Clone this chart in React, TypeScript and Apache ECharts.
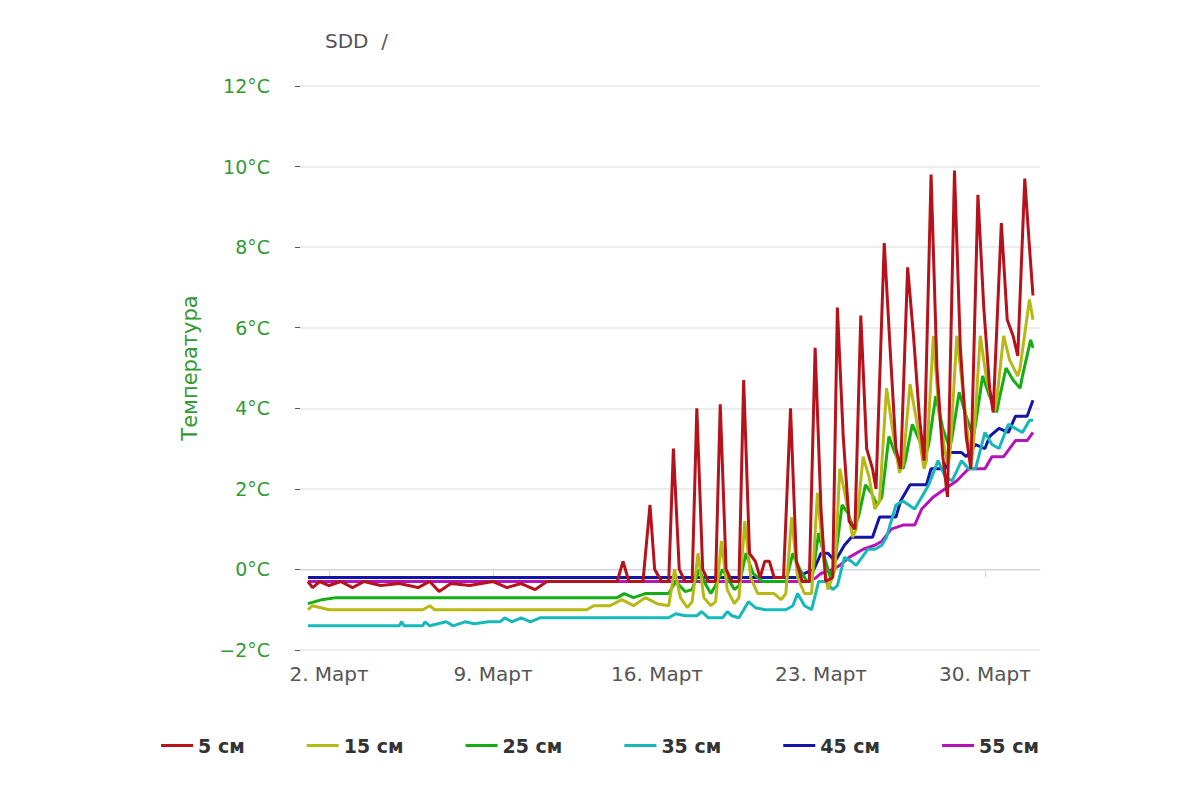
import React, { useEffect, useRef } from "react";
import * as echarts from "echarts";

// x = day of March (fractional), y = °C
const dayTicks = [2, 9, 16, 23, 30];
const yTicks = [-2, 0, 2, 4, 6, 8, 10, 12];
const seriesNames = ["5 см", "15 см", "25 см", "35 см", "45 см", "55 см"];
const colors = ["#b5121b", "#b8b814", "#14ad14", "#17b8b8", "#1414a8", "#b514b8"];

const s5 = [[1.1,-0.3],[1.3,-0.45],[1.6,-0.3],[2.0,-0.4],[2.5,-0.3],[3.0,-0.45],[3.5,-0.3],[4.2,-0.4],[5.0,-0.35],[5.8,-0.45],[6.3,-0.3],[6.7,-0.55],[7.2,-0.35],[8.0,-0.4],[9.0,-0.3],[9.6,-0.45],[10.2,-0.35],[10.8,-0.5],[11.3,-0.3],[12.5,-0.3],[13.5,-0.3],[14.3,-0.3],[14.55,0.2],[14.8,-0.3],[15.4,-0.3],[15.7,1.6],[15.9,0.0],[16.2,-0.3],[16.5,-0.3],[16.7,3.0],[16.95,0.0],[17.2,-0.3],[17.5,-0.3],[17.7,4.0],[17.95,0.0],[18.2,-0.3],[18.5,-0.3],[18.7,4.1],[18.95,0.0],[19.2,-0.3],[19.5,-0.3],[19.7,4.7],[19.95,0.4],[20.2,0.2],[20.4,-0.2],[20.6,0.2],[20.8,0.2],[21.0,-0.2],[21.4,-0.2],[21.7,4.0],[21.95,0.2],[22.2,-0.3],[22.5,-0.3],[22.75,5.5],[23.0,1.5],[23.2,-0.3],[23.5,-0.2],[23.7,6.5],[23.95,3.3],[24.2,1.2],[24.45,1.0],[24.7,6.3],[24.95,3.0],[25.2,2.5],[25.35,2.0],[25.7,8.1],[25.95,5.5],[26.2,3.0],[26.4,2.5],[26.7,7.5],[26.95,5.8],[27.2,3.8],[27.4,2.7],[27.7,9.8],[27.95,5.0],[28.2,2.8],[28.4,1.8],[28.7,9.9],[28.95,5.5],[29.2,3.3],[29.4,2.5],[29.7,9.3],[29.95,6.5],[30.2,4.5],[30.35,3.9],[30.7,8.6],[30.95,6.2],[31.2,5.8],[31.4,5.3],[31.7,9.7],[31.9,8.0],[32.05,6.8]];
const s15 = [[1.1,-1.0],[1.3,-0.9],[2.0,-1.0],[6.0,-1.0],[6.3,-0.9],[6.5,-1.0],[11.5,-1.0],[13.0,-1.0],[13.3,-0.9],[14.0,-0.9],[14.5,-0.75],[15.0,-0.9],[15.5,-0.7],[16.0,-0.85],[16.5,-0.9],[16.75,0.0],[17.0,-0.7],[17.3,-0.95],[17.5,-0.8],[17.75,0.4],[18.0,-0.7],[18.3,-0.9],[18.5,-0.8],[18.75,0.7],[19.0,-0.5],[19.3,-0.85],[19.5,-0.7],[19.75,1.2],[20.0,-0.2],[20.3,-0.6],[21.0,-0.6],[21.3,-0.75],[21.5,-0.6],[21.75,1.3],[22.0,-0.2],[22.3,-0.6],[22.6,-0.6],[22.85,1.9],[23.1,0.3],[23.3,-0.5],[23.6,0.0],[23.8,2.5],[24.05,1.8],[24.35,0.8],[24.5,1.0],[24.8,2.8],[25.05,2.3],[25.3,1.5],[25.5,1.7],[25.8,4.5],[26.05,3.5],[26.35,2.4],[26.5,2.6],[26.8,4.6],[27.05,3.8],[27.4,2.5],[27.5,2.7],[27.8,5.8],[28.05,3.8],[28.4,2.6],[28.5,2.8],[28.8,5.8],[29.05,4.5],[29.4,2.6],[29.5,3.0],[29.8,5.8],[30.05,4.8],[30.4,3.9],[30.5,4.2],[30.8,5.8],[31.05,5.2],[31.4,4.8],[31.5,5.0],[31.9,6.7],[32.05,6.2]];
const s25 = [[1.1,-0.85],[1.4,-0.8],[1.7,-0.75],[2.3,-0.7],[14.3,-0.7],[14.6,-0.6],[15.0,-0.7],[15.5,-0.6],[16.0,-0.6],[16.5,-0.6],[16.8,-0.3],[17.2,-0.55],[17.5,-0.5],[17.8,0.0],[18.1,-0.4],[18.3,-0.6],[18.5,-0.4],[18.8,0.0],[19.1,-0.3],[19.3,-0.5],[19.5,-0.4],[19.8,0.4],[20.1,-0.1],[20.5,-0.3],[21.5,-0.3],[21.8,0.4],[22.1,0.0],[22.4,-0.3],[22.6,-0.3],[22.9,0.9],[23.15,0.3],[23.4,-0.2],[23.6,0.2],[23.9,1.6],[24.15,1.4],[24.4,1.0],[24.6,1.3],[24.9,2.1],[25.15,1.9],[25.4,1.6],[25.6,1.8],[25.9,3.3],[26.15,2.9],[26.5,2.5],[26.6,2.7],[26.9,3.6],[27.2,3.2],[27.5,2.9],[27.6,3.1],[27.9,4.3],[28.2,3.5],[28.5,3.0],[28.6,3.3],[28.9,4.4],[29.2,3.8],[29.5,3.3],[29.6,3.6],[29.9,4.8],[30.2,4.3],[30.5,3.9],[30.6,4.2],[30.9,5.0],[31.2,4.7],[31.5,4.5],[31.6,4.8],[31.95,5.7],[32.05,5.5]];
const s35 = [[1.1,-1.4],[5.0,-1.4],[5.1,-1.3],[5.2,-1.4],[6.0,-1.4],[6.1,-1.3],[6.3,-1.4],[7.0,-1.3],[7.3,-1.4],[7.8,-1.3],[8.2,-1.35],[8.8,-1.3],[9.3,-1.3],[9.5,-1.2],[9.8,-1.3],[10.2,-1.2],[10.6,-1.3],[11.0,-1.2],[13.0,-1.2],[16.5,-1.2],[16.8,-1.1],[17.2,-1.15],[17.7,-1.15],[17.9,-1.05],[18.2,-1.2],[18.8,-1.2],[19.0,-1.05],[19.2,-1.15],[19.5,-1.2],[19.9,-0.8],[20.2,-0.95],[20.6,-1.0],[21.5,-1.0],[21.8,-0.9],[22.0,-0.6],[22.3,-0.9],[22.6,-1.0],[22.9,-0.3],[23.2,-0.3],[23.5,-0.5],[23.7,-0.4],[24.0,0.3],[24.3,0.2],[24.5,0.1],[25.0,0.5],[25.3,0.5],[25.6,0.6],[25.8,0.8],[26.2,1.6],[26.5,1.7],[27.0,1.5],[27.4,1.9],[27.6,2.1],[28.0,2.7],[28.3,2.3],[28.6,2.2],[29.0,2.7],[29.3,2.5],[29.6,2.5],[30.0,3.4],[30.3,3.1],[30.6,3.0],[31.0,3.6],[31.3,3.5],[31.6,3.4],[31.9,3.7],[32.05,3.7]];
const s45 = [[1.1,-0.2],[22.0,-0.2],[22.3,-0.1],[22.7,0.0],[23.0,0.4],[23.3,0.4],[23.6,0.2],[24.0,0.6],[24.3,0.8],[25.2,0.8],[25.5,1.3],[26.2,1.3],[26.4,1.7],[26.8,2.1],[27.5,2.1],[27.7,2.5],[28.3,2.5],[28.5,2.9],[29.0,2.9],[29.2,2.8],[29.6,3.1],[30.0,3.0],[30.2,3.3],[30.6,3.5],[31.0,3.4],[31.3,3.8],[31.8,3.8],[32.05,4.2]];
const s55 = [[1.1,-0.3],[22.5,-0.3],[22.8,-0.2],[23.0,-0.1],[23.5,0.0],[23.8,0.1],[24.2,0.3],[24.8,0.5],[25.3,0.6],[25.6,0.7],[26.0,1.0],[26.5,1.1],[27.0,1.1],[27.3,1.5],[27.8,1.8],[28.3,2.0],[28.8,2.2],[29.3,2.5],[30.0,2.5],[30.3,2.8],[30.8,2.8],[31.3,3.2],[31.8,3.2],[32.05,3.4]];
const allData = [s5, s15, s25, s35, s45, s55];

export default function App() {
  const ref = useRef<HTMLDivElement>(null);
  useEffect(() => {
    document.body.style.margin = "0";
    const chart = echarts.init(ref.current!, null, { renderer: "svg" });
    chart.setOption({
      animation: false,
      backgroundColor: "#fff",
      title: { text: "SDD  /", left: 320, top: 26, textStyle: { color: "#555", fontSize: 20, fontWeight: "normal", fontFamily: "DejaVu Sans" } },
      legend: {
        bottom: 40, left: "center", itemGap: 62, itemWidth: 32, itemHeight: 3,
        icon: "rect",
        textStyle: { fontSize: 19, color: "#333", fontWeight: "bold", fontFamily: "DejaVu Sans" },
        data: seriesNames,
      },
      grid: { left: 300, right: 160, top: 86, bottom: 150 },
      xAxis: {
        type: "value", min: 0.76, max: 32.35,
        axisLine: { show: true, lineStyle: { color: "#ccd6eb" } },
        axisTick: { show: true, customValues: dayTicks, length: 8, lineStyle: { color: "#ccd6eb" } },
        axisLabel: { customValues: dayTicks, formatter: (v: number) => `${v}. Март`, color: "#555", fontSize: 20, fontFamily: "DejaVu Sans", margin: 14 },
        splitLine: { show: false },
      },
      yAxis: {
        type: "value", min: -2, max: 12, interval: 2,
        name: "Температура", nameLocation: "middle", nameGap: 100, nameRotate: 90,
        nameTextStyle: { color: "#339933", fontSize: 21, fontFamily: "DejaVu Sans" },
        axisLine: { show: false },
        axisLabel: { formatter: (v: number) => `${v < 0 ? "−" + -v : v}°C`, color: "#339933", fontSize: 19, fontFamily: "DejaVu Sans", margin: 30 },
        splitLine: { lineStyle: { color: "#e6e6e6", width: 1.5 } },
      },
      series: allData.map((d, i) => ({
        name: seriesNames[i], type: "line", data: d, showSymbol: false,
        lineStyle: { width: 3, color: colors[i] }, itemStyle: { color: colors[i] },
        z: 10 - i,
      })),
    });
    return () => chart.dispose();
  }, []);
  return <div ref={ref} style={{ width: 1200, height: 800 }} />;
}
